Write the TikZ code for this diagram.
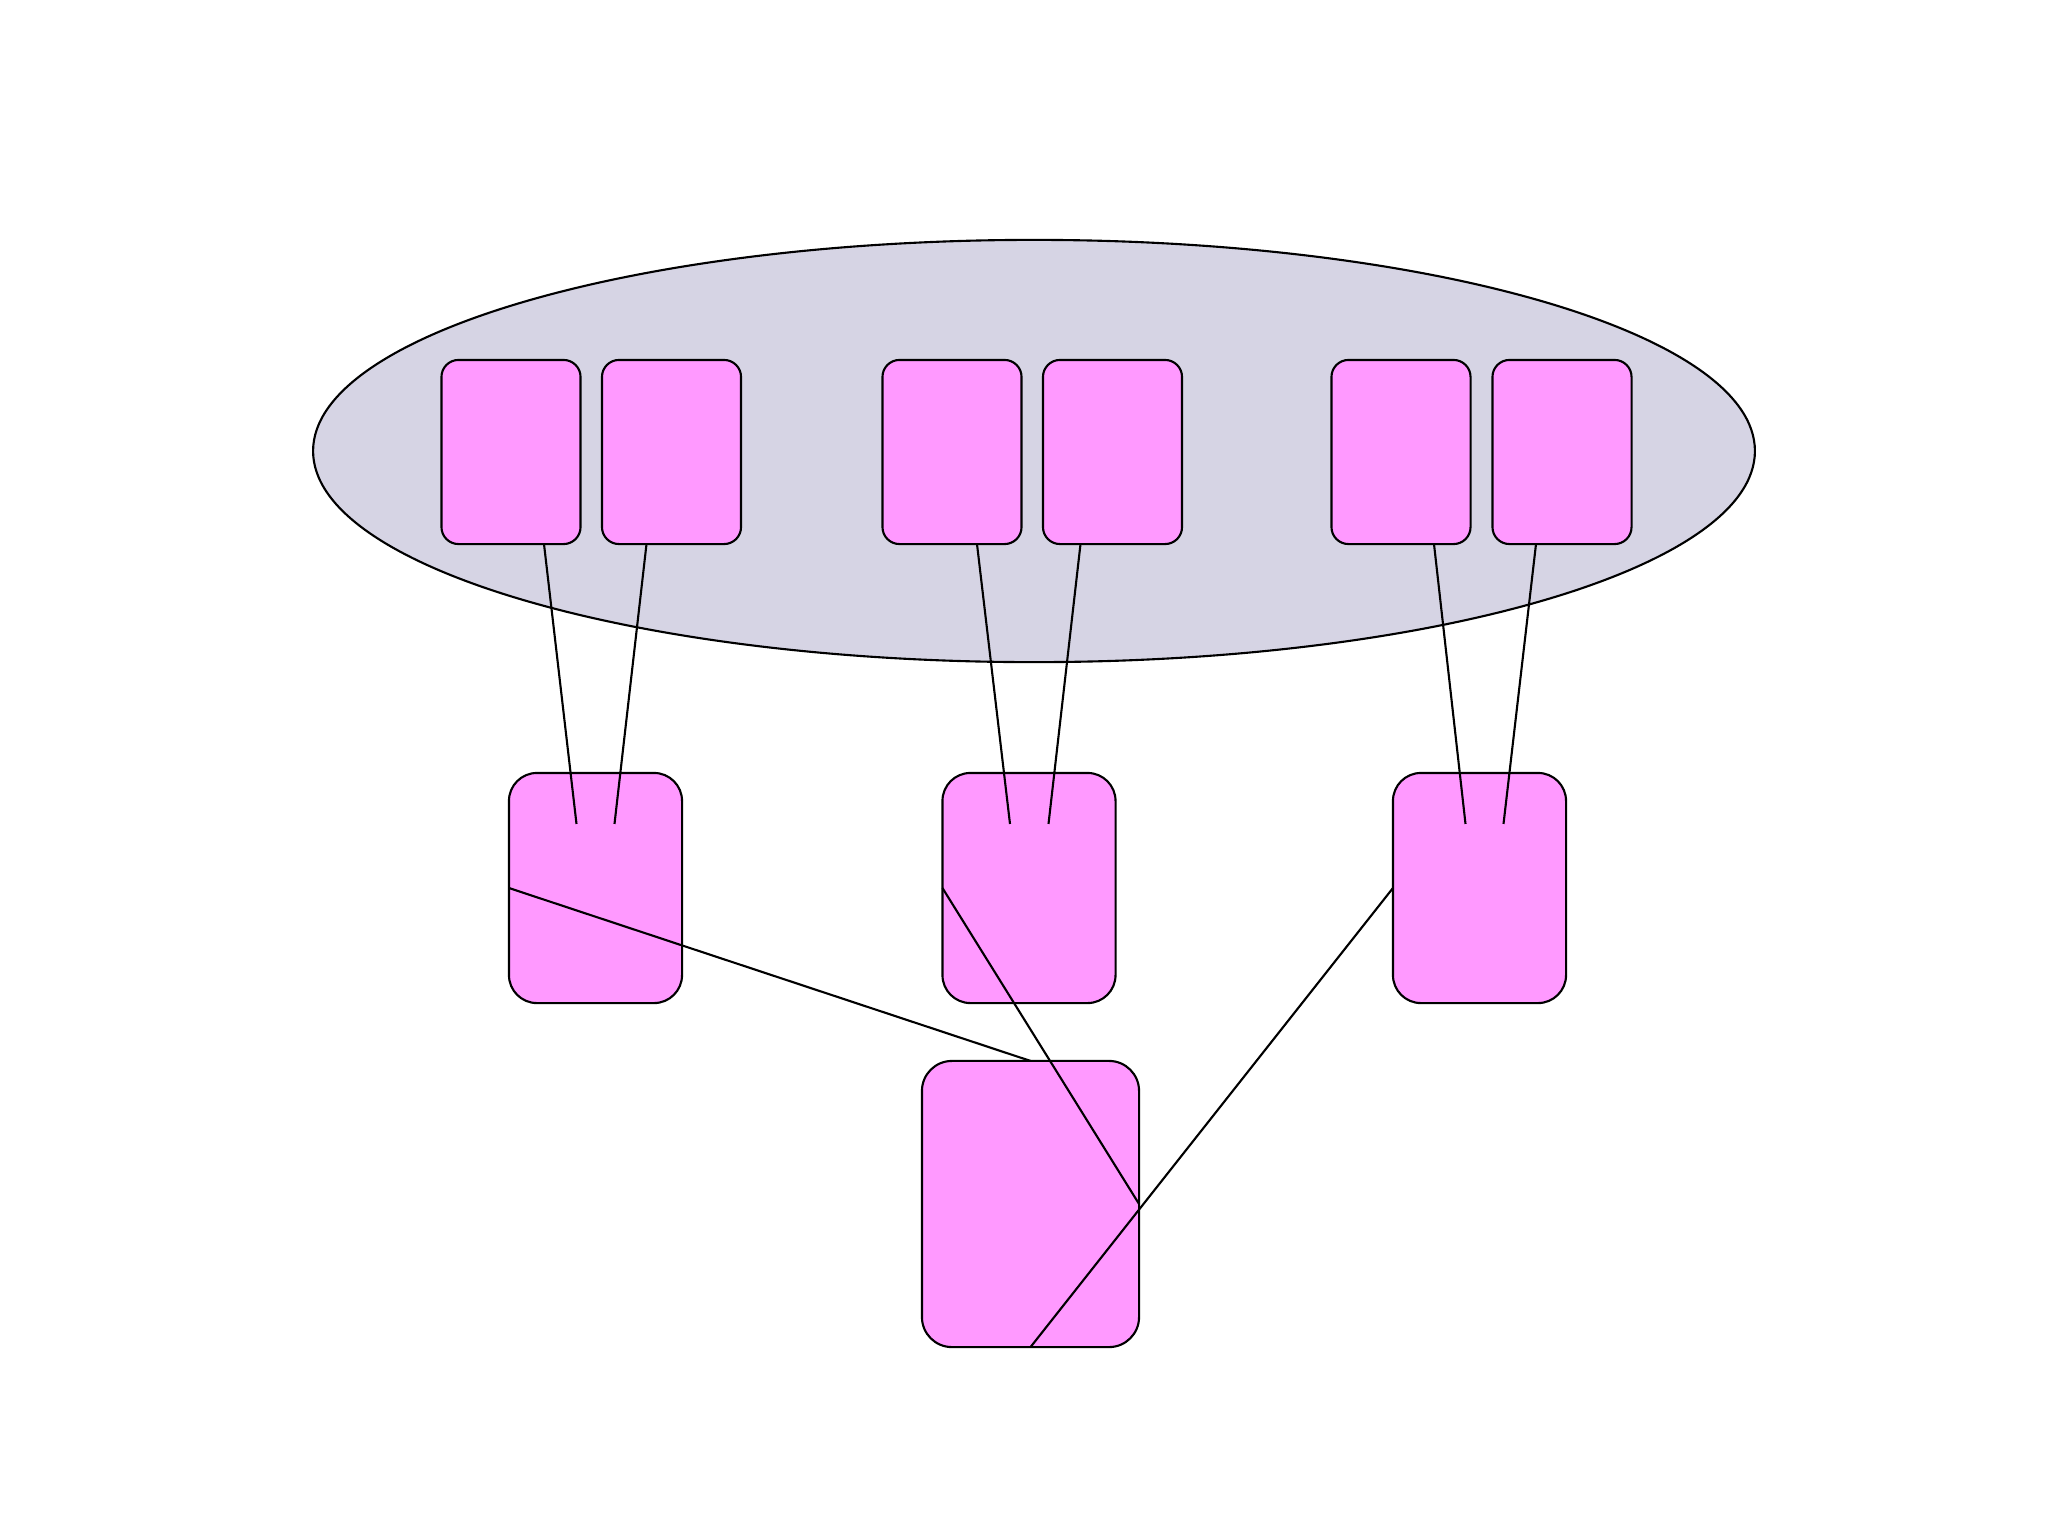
\documentclass[tikz,border=0pt]{standalone}
\usepackage{tikz}
\usetikzlibrary{calc}
\usetikzlibrary{shapes}

\definecolor{boxpink}{RGB}{255,153,255}
\definecolor{ovalgrey}{RGB}{214,212,228}

\tikzset{
  card/.style={draw,fill=boxpink,line width=0.6pt,inner sep=0pt,outer sep=0pt},
  small/.style={card,minimum width=1.39cm,minimum height=1.84cm,rounded corners=0.17cm},
  middle/.style={card,minimum width=1.73cm,minimum height=2.30cm,rounded corners=0.28cm},
  large/.style={card,minimum width=2.17cm,minimum height=2.86cm,rounded corners=0.30cm},
  wire/.style={line width=0.6pt}
}

\begin{document}
\begin{tikzpicture}

\begin{scope}[x=0.01cm,y=-0.01cm]

  \useasboundingbox (0,0) rectangle (2048,1536);

  % the oval round the six small cards
  \node[ellipse,draw,fill=ovalgrey,line width=0.6pt,inner sep=0pt,
        minimum width=14.41cm,minimum height=4.22cm] (e) at (1034,451) {};

  \node[small] (t1) at (511,452) {};
  \node[small] (t2) at (671.5,452) {};
  \node[small] (t3) at (952,452) {};
  \node[small] (t4) at (1112.5,452) {};
  \node[small] (t5) at (1401,452) {};
  \node[small] (t6) at (1562,452) {};

  \node[middle] (m1) at (595.5,888) {};
  \node[middle] (m2) at (1029,888) {};
  \node[middle] (m3) at (1479.5,888) {};

  \node[large] (b) at (1030.5,1204) {};

  \draw[wire] ($(t1.south)+(33,0)$) -- ($(m1.north)+(-19,51)$);
  \draw[wire] ($(t2.south)+(-25,0)$) -- ($(m1.north)+(19,51)$);
  \draw[wire] ($(t3.south)+(25,0)$) -- ($(m2.north)+(-19,51)$);
  \draw[wire] ($(t4.south)+(-32,0)$) -- ($(m2.north)+(19.5,51)$);
  \draw[wire] ($(t5.south)+(33,0)$) -- ($(m3.north)+(-14,51)$);
  \draw[wire] ($(t6.south)+(-26,0)$) -- ($(m3.north)+(24,51)$);

  \draw[wire] (m1.west) -- (b.north);
  \draw[wire] (m2.west) -- (b.east);
  \draw[wire] (m3.west) -- (b.south);
\end{scope}

\end{tikzpicture}
\end{document}
